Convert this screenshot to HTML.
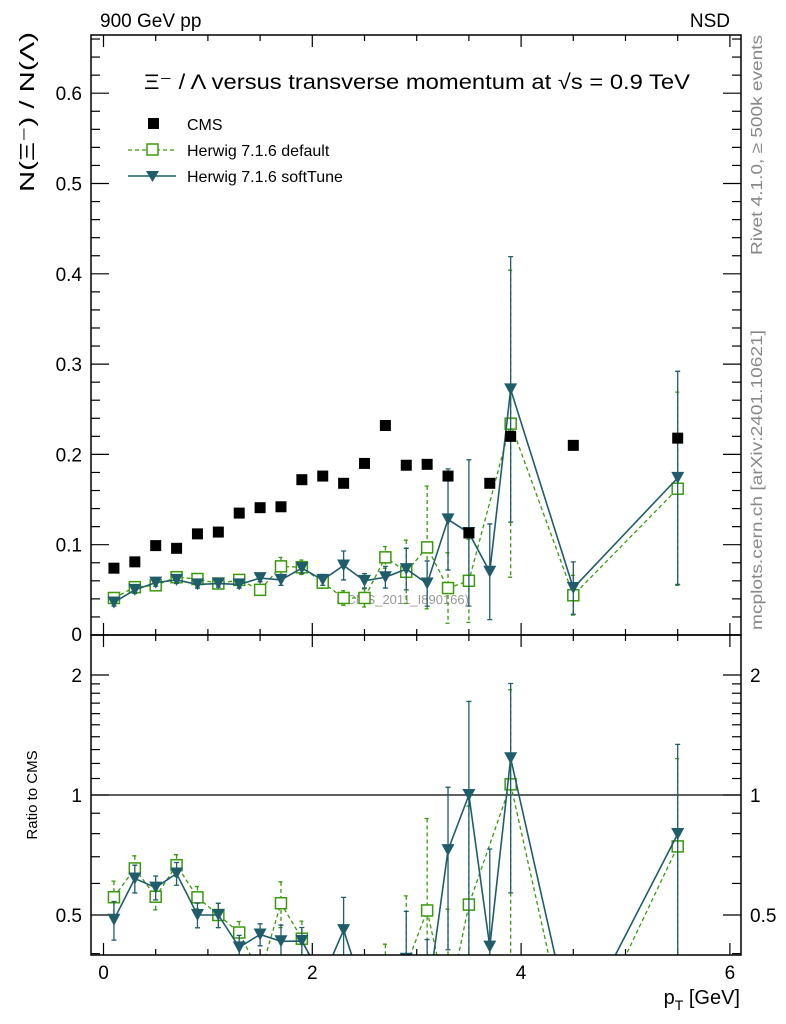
<!DOCTYPE html>
<html><head><meta charset="utf-8"><style>
body{margin:0;background:#fff;overflow:hidden;}
svg{display:block;font-family:"Liberation Sans",sans-serif;}
</style></head><body>
<svg id="chart" width="786" height="1024" viewBox="0 0 786 1024" xmlns="http://www.w3.org/2000/svg">
<defs>
<clipPath id="clipMain"><rect x="91" y="35" width="650" height="600"/></clipPath>
<clipPath id="clipRatio"><rect x="91" y="635" width="650" height="320"/></clipPath>
</defs>
<text x="100" y="27" font-size="19">900 GeV pp</text>
<text x="730" y="27" font-size="19" text-anchor="end">NSD</text>
<text transform="translate(34,192) rotate(-90)" font-size="20" textLength="160" lengthAdjust="spacingAndGlyphs">N(Ξ⁻)  /  N(Λ)</text>
<text transform="translate(37,795) rotate(-90)" font-size="15" text-anchor="middle">Ratio to CMS</text>
<text x="740" y="1004" font-size="20" text-anchor="end">p<tspan font-size="14" dy="6">T</tspan><tspan dy="-6"> [GeV]</tspan></text>
<text transform="translate(762,255) rotate(-90)" font-size="16" fill="#888" textLength="220" lengthAdjust="spacingAndGlyphs">Rivet 4.1.0, ≥ 500k events</text>
<text transform="translate(762,630) rotate(-90)" font-size="16" fill="#888" textLength="300" lengthAdjust="spacingAndGlyphs">mcplots.cern.ch [arXiv:2401.10621]</text>
<text x="144" y="89" font-size="21" textLength="546" lengthAdjust="spacingAndGlyphs">Ξ⁻ / Λ versus transverse momentum at √s = 0.9 TeV</text>
<g id="legend">
<rect x="148" y="118" width="11" height="11" fill="#000"/>
<text x="187" y="130" font-size="16">CMS</text>
<line x1="128" y1="150" x2="176" y2="150" stroke="#3a9a0a" stroke-width="1.3" stroke-dasharray="4,3"/>
<rect x="147" y="144" width="11" height="11" fill="#fff" stroke="#3a9a0a" stroke-width="1.5"/>
<text x="187" y="156" font-size="16">Herwig 7.1.6 default</text>
<line x1="128" y1="176" x2="176" y2="176" stroke="#1f5d6b" stroke-width="1.5"/>
<path d="M146,171 L159,171 L152.5,182 Z" fill="#1f5d6b"/>
<text x="187" y="182" font-size="16">Herwig 7.1.6 softTune</text>
</g>
<text x="342" y="604" font-size="13" fill="#999">(CMS_2011_I890166)</text>
<g id="axes"></g>
<g id="main" clip-path="url(#clipMain)"></g>
<g id="ratio" clip-path="url(#clipRatio)"></g>
<rect x="91" y="35" width="650" height="600" fill="none" stroke="#000" stroke-width="1.5"/>
<rect x="91" y="635" width="650" height="320" fill="none" stroke="#000" stroke-width="1.5"/>
</svg>
<script>
const xVals=[0.1,0.3,0.5,0.7,0.9,1.1,1.3,1.5,1.7,1.9,2.1,2.3,2.5,2.7,2.9,3.1,3.3,3.5,3.7,3.9,4.5,5.5];
const cmsVals=[0.074,0.081,0.099,0.096,0.112,0.114,0.135,0.141,0.142,0.172,0.176,0.168,0.190,0.232,0.188,0.189,0.176,0.113,0.168,0.220,0.210,0.218];
const defVals=[0.041,0.053,0.055,0.064,0.062,0.057,0.061,0.050,0.076,0.075,0.058,0.041,0.041,0.086,0.070,0.097,0.052,0.060,null,0.234,0.044,0.162];
const defErr=[0.004,0.004,0.004,0.004,0.004,0.004,0.004,0.004,0.010,0.008,0.006,0.008,0.010,0.012,0.035,0.068,0.039,0.046,0,0.170,0.022,0.107];
const softVals=[0.036,0.050,0.058,0.061,0.056,0.057,0.056,0.063,0.061,0.074,0.061,0.077,0.060,0.064,0.073,0.057,0.128,0.113,0.070,0.272,0.052,0.174];
const softErr=[0.004,0.004,0.004,0.004,0.004,0.004,0.004,0.004,0.006,0.006,0.006,0.016,0.008,0.012,0.023,0.025,0.056,0.081,0.053,0.147,0.029,0.118];
const xTicks=[0,2,4,6];
const yTicks=[0.1,0.2,0.3,0.4,0.5,0.6];
const rTicks=[0.5,1,2];
const NS='http://www.w3.org/2000/svg';
const X=v=>103.5+v*104.4;
const Y=v=>635-v*903;
const R=v=>795-Math.log2(v)*120;
function mk(p,tag,at){const e=document.createElementNS(NS,tag);for(const k in at)e.setAttribute(k,at[k]);p.appendChild(e);return e;}
const ax=document.getElementById('axes');
for(let v=0;v<=6.01;v+=0.5){const maj=Math.abs(v-Math.round(v/2)*2)<1e-6;const L=maj?12:6;
 for(const [yb,dir] of [[635,-1],[35,1],[955,-1],[635,1]]){const t=mk(ax,'line',{x1:X(v),x2:X(v),y1:yb,y2:yb+dir*L,stroke:'#000','stroke-width':1.2});
 
 }}
xTicks.forEach(v=>{const t=mk(ax,'text',{x:X(v),y:979,'font-size':19,'text-anchor':'middle'});t.textContent=v;
 
 });
for(let i=0;i<=33;i++){const v=i*0.02;const yy=Y(v);if(yy<35)break;const maj=i%5==0;const L=maj?18:9;
 const t1=mk(ax,'line',{x1:91,x2:91+L,y1:yy,y2:yy,stroke:'#000','stroke-width':1.2});
 
 
 mk(ax,'line',{x1:741,x2:741-L,y1:yy,y2:yy,stroke:'#000','stroke-width':1.2});}
yTicks.forEach(v=>{const t=mk(ax,'text',{x:82,y:Y(v)+7,'font-size':19,'text-anchor':'end'});t.textContent=v.toFixed(1);
 
 });
const z=mk(ax,'text',{x:82,y:641,'font-size':19,'text-anchor':'end'});z.textContent='0';
[0.4,0.5,0.6,0.7,0.8,0.9,1,1.1,1.2,1.3,1.4,1.5,1.6,1.7,1.8,1.9,2].forEach(v=>{const yy=R(v);const maj=rTicks.includes(v);const L=maj?18:9;
 const t=mk(ax,'line',{x1:91,x2:91+L,y1:yy,y2:yy,stroke:'#000','stroke-width':1.2});
 
 
 mk(ax,'line',{x1:741,x2:741-L,y1:yy,y2:yy,stroke:'#000','stroke-width':1.2});});
rTicks.forEach(v=>{const s=String(v);
 const a=mk(ax,'text',{x:82,y:R(v)+7,'font-size':19,'text-anchor':'end'});a.textContent=s;
 
 
 const b=mk(ax,'text',{x:750,y:R(v)+7,'font-size':19});b.textContent=s;
 
 });
const main=document.getElementById('main'),ratio=document.getElementById('ratio');
const one=mk(ratio,'line',{x1:91,x2:741,y1:R(1),y2:R(1),stroke:'#000','stroke-width':1.3});


function series(g,vals,errs,fy,color,dash,kind,name){
 const pts=vals.map((v,i)=>v==null?null:X(xVals[i])+','+fy(v)).filter(p=>p).join(' ');
 const pl=mk(g,'polyline',{points:pts,fill:'none',stroke:color,'stroke-width':dash?1.3:1.6,'stroke-dasharray':dash?'4,3':'none'});
 
 
 vals.forEach((v,i)=>{if(v==null)return;const x=X(xVals[i]);const hi=fy(v+errs[i]),lo=fy(Math.max(v-errs[i],1e-4));
  const e=mk(g,'path',{d:`M${x},${hi}L${x},${lo}M${x-2.5},${hi}L${x+2.5},${hi}M${x-2.5},${lo}L${x+2.5},${lo}`,stroke:color,'stroke-width':1.3,'stroke-dasharray':dash?'4,3':'none',fill:'none'});
  
  
  const y=fy(v);let m;
  if(kind=='sq')m=mk(g,'rect',{x:x-5.5,y:y-5.5,width:11,height:11,fill:'#fff',stroke:color,'stroke-width':1.5});
  else m=mk(g,'path',{d:`M${x-6.5},${y-6} L${x+6.5},${y-6} L${x},${y+6} Z`,fill:color});
  
  });
}
series(main,defVals,defErr,Y,'#3a9a0a',true,'sq','default');
series(main,softVals,softErr,Y,'#1f5d6b',false,'tri','softtune');
cmsVals.forEach((v,i)=>{const r=mk(main,'rect',{x:X(xVals[i])-5.5,y:Y(v)-5.5,width:11,height:11,fill:'#000'});
 
 });
const dR=defVals.map((v,i)=>v==null?null:v/cmsVals[i]),dRe=defErr.map((e,i)=>e/cmsVals[i]);
const sR=softVals.map((v,i)=>v/cmsVals[i]),sRe=softErr.map((e,i)=>e/cmsVals[i]);
series(ratio,dR,dRe,R,'#3a9a0a',true,'sq','ratio-default');
series(ratio,sR,sRe,R,'#1f5d6b',false,'tri','ratio-softtune');
</script>
</body></html>
